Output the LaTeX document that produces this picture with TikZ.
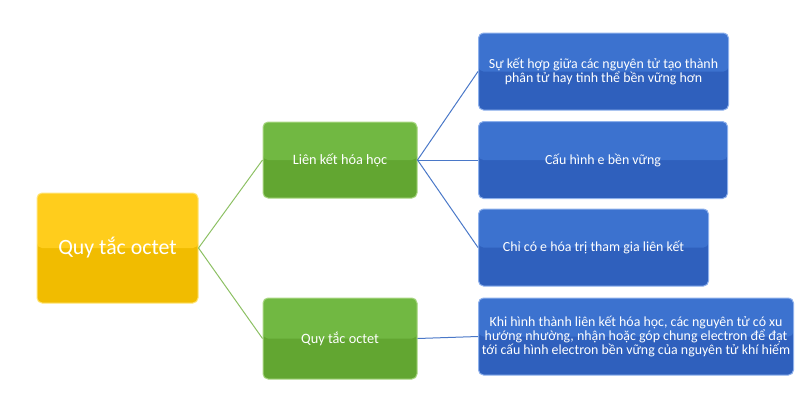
\documentclass[tikz,border=0pt]{standalone}
\usepackage{fontspec}
\setmainfont{Carlito}

\definecolor{ytop}{HTML}{FFCD1C}
\definecolor{ybot}{HTML}{F1BC00}
\definecolor{yline}{HTML}{FFE57A}
\definecolor{gtop}{HTML}{71B842}
\definecolor{gbot}{HTML}{62A631}
\definecolor{gline}{HTML}{A9D783}
\definecolor{btop}{HTML}{3C72CF}
\definecolor{bbot}{HTML}{2F60BD}
\definecolor{bline}{HTML}{8DB0EC}
\definecolor{glinkc}{HTML}{8CC063}
\definecolor{blinkc}{HTML}{4A78C8}

\tikzset{
  mapbox/.style={rounded corners=5pt, draw=#1line, line width=1pt, fill=#1bot,
    text=white, align=center, inner sep=0pt,
    path picture={\fill[#1top] (path picture bounding box.north west)
      rectangle (path picture bounding box.east);}},
  rootbox/.style={mapbox=y, minimum width=161pt, minimum height=110pt,
    font=\fontsize{21.8}{24}\selectfont},
  midbox/.style={mapbox=g, minimum width=154pt, font=\fontsize{14.3}{16}\selectfont},
  leafbox/.style={mapbox=b, anchor=west, minimum height=77pt,
    font=\fontsize{13.9}{13.8}\selectfont},
  glink/.style={draw=glinkc, line width=1pt},
  blink/.style={draw=blinkc, line width=1pt}
}

\begin{document}
\begin{tikzpicture}[x=1pt, y=-1pt]
  \useasboundingbox (0,0) rectangle (800,413);

  % main topic
  \node[rootbox] (root) at (117.5,248) {Quy tắc octet};

  % branches
  \node[midbox, minimum height=76pt] (bond) at (340,160) {Liên kết hóa học};
  \node[midbox, minimum height=81pt] (octet) at (340,338.5) {Quy tắc octet};

  % details
  \node[leafbox, minimum width=250pt] (bondA) at (478,71.5)
    {Sự kết hợp giữa các nguyên tử tạo thành\\phân tử hay tinh thể bền vững hơn};
  \node[leafbox, minimum width=249pt] (bondB) at (478,160) {Cấu hình e bền vững};
  \node[leafbox, minimum width=230pt] (bondC) at (478,247.5)
    {Chỉ có e hóa trị tham gia liên kết};
  \node[leafbox, minimum width=315pt] (octetA) at (478,336.5)
    {Khi hình thành liên kết hóa học, các nguyên tử có xu\\
     hướng nhường, nhận hoặc góp chung electron để đạt\\
     tới cấu hình electron bền vững của nguyên tử khí hiếm};

  \draw[glink] (root.east) -- (bond.west);
  \draw[glink] (root.east) -- (octet.west);
  \draw[blink] (bond.east) -- (bondA.west);
  \draw[blink] (bond.east) -- (bondB.west);
  \draw[blink] (bond.east) -- (bondC.west);
  \draw[blink] (octet.east) -- (octetA.west);
\end{tikzpicture}
\end{document}
